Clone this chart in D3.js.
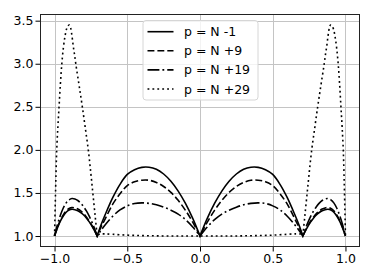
<!DOCTYPE html>
<meta charset="utf-8">
<style>
    body { margin: 0; background: #fff; }
    text { font-family: 'DejaVu Sans', sans-serif; }
    .axis .domain { display: none; }
    .axis text { font-size: 12.5px; fill: #000; }
    .axis line { stroke: #000; }
    .grid line { stroke: #c4c4c4; stroke-width: 1; shape-rendering: crispEdges; }
</style>
<svg width="374" height="280"></svg>
<script src="https://cdn.jsdelivr.net/npm/d3@7"></script>
<script>
    var svg = d3.select("svg"),
        margin = { top: 14, right: 14, bottom: 33, left: 40 },
        width = +svg.attr("width") - margin.left - margin.right,
        height = +svg.attr("height") - margin.top - margin.bottom,
        g = svg.append("g").attr("transform", "translate(" + margin.left + "," + margin.top + ")");

    var xTicks = [-1, -0.5, 0, 0.5, 1];
    var yTicks = [1.0, 1.5, 2.0, 2.5, 3.0, 3.5];
    var nodes = [-1, -0.707, 0, 0.707, 1];

    // x grid shared by the three lower curves
    var xGrid = [
        -1, -0.98, -0.96, -0.94, -0.92, -0.90, -0.88, -0.86, -0.84, -0.82, -0.80, -0.78, -0.76, -0.74, -0.72, -0.707,
        -0.68, -0.65, -0.60, -0.55, -0.50, -0.45, -0.40, -0.35, -0.30, -0.25, -0.20, -0.15, -0.10, -0.05, 0,
        0.05, 0.10, 0.15, 0.20, 0.25, 0.30, 0.35, 0.40, 0.45, 0.50, 0.55, 0.60, 0.65, 0.68, 0.707,
        0.72, 0.74, 0.76, 0.78, 0.80, 0.82, 0.84, 0.86, 0.88, 0.90, 0.92, 0.94, 0.96, 0.98, 1
    ];

    var pMinus1 = [
        1.00, 1.095, 1.172, 1.232, 1.276, 1.301, 1.31, 1.306, 1.294, 1.273, 1.244, 1.206, 1.161, 1.107, 1.045, 1.00,
        1.13, 1.255, 1.445, 1.60, 1.715, 1.77, 1.797, 1.798, 1.774, 1.72, 1.635, 1.521, 1.378, 1.204, 1.00,
        1.204, 1.378, 1.521, 1.635, 1.72, 1.774, 1.798, 1.797, 1.77, 1.715, 1.60, 1.445, 1.255, 1.13, 1.00,
        1.045, 1.107, 1.161, 1.206, 1.244, 1.273, 1.294, 1.306, 1.31, 1.301, 1.276, 1.232, 1.172, 1.095, 1.00
    ];

    var pPlus9 = [
        1.00, 1.101, 1.183, 1.246, 1.293, 1.32, 1.33, 1.326, 1.313, 1.291, 1.26, 1.219, 1.171, 1.114, 1.048, 1.00,
        1.105, 1.205, 1.37, 1.49, 1.585, 1.63, 1.648, 1.647, 1.622, 1.575, 1.506, 1.414, 1.298, 1.161, 1.00,
        1.161, 1.298, 1.414, 1.506, 1.575, 1.622, 1.647, 1.648, 1.63, 1.585, 1.49, 1.37, 1.205, 1.105, 1.00,
        1.048, 1.114, 1.171, 1.219, 1.26, 1.291, 1.313, 1.326, 1.33, 1.32, 1.293, 1.246, 1.183, 1.101, 1.00
    ];

    var pPlus19 = [
        1.00, 1.133, 1.24, 1.325, 1.385, 1.42, 1.435, 1.43, 1.412, 1.382, 1.34, 1.288, 1.225, 1.15, 1.063, 1.00,
        1.067, 1.134, 1.23, 1.303, 1.35, 1.378, 1.385, 1.379, 1.362, 1.335, 1.30, 1.255, 1.19, 1.105, 1.00,
        1.105, 1.19, 1.255, 1.30, 1.335, 1.362, 1.379, 1.385, 1.378, 1.35, 1.303, 1.23, 1.134, 1.067, 1.00,
        1.063, 1.15, 1.225, 1.288, 1.34, 1.382, 1.412, 1.43, 1.435, 1.42, 1.385, 1.325, 1.24, 1.133, 1.00
    ];

    // the dotted curve needs its own, finer x grid near the tall peaks
    var xDot = [
        -1, -0.995, -0.99, -0.985, -0.977, -0.969, -0.96, -0.95, -0.939, -0.928, -0.918, -0.908, -0.898,
        -0.89, -0.88, -0.871, -0.862, -0.854, -0.84, -0.825, -0.809, -0.79, -0.768, -0.75, -0.735, -0.72, -0.707,
        -0.69, -0.66, -0.60, -0.50, -0.40, -0.30, -0.20, -0.10, 0,
        0.10, 0.20, 0.30, 0.40, 0.50, 0.60, 0.66, 0.69, 0.707,
        0.72, 0.735, 0.75, 0.768, 0.79, 0.809, 0.825, 0.84, 0.854, 0.862, 0.871, 0.88, 0.89,
        0.898, 0.908, 0.918, 0.928, 0.939, 0.95, 0.96, 0.969, 0.977, 0.985, 0.99, 0.995, 1
    ];

    var pPlus29 = [
        1.0, 1.38, 1.72, 2.0, 2.27, 2.5, 2.76, 3.0, 3.19, 3.32, 3.40, 3.44, 3.45,
        3.42, 3.32, 3.2, 3.1, 3.0, 2.845, 2.68, 2.5, 2.27, 2.0, 1.72, 1.47, 1.22, 1.0,
        1.022, 1.025, 1.02, 1.01, 1.005, 1.002, 1.0, 1.0, 1.0,
        1.0, 1.0, 1.002, 1.005, 1.01, 1.02, 1.025, 1.022, 1.0,
        1.22, 1.47, 1.72, 2.0, 2.27, 2.5, 2.68, 2.845, 3.0, 3.1, 3.2, 3.32, 3.42,
        3.45, 3.44, 3.40, 3.32, 3.19, 3.0, 2.76, 2.5, 2.27, 2.0, 1.72, 1.38, 1.0
    ];

    var labels = ["p = N -1", "p = N +9", "p = N +19", "p = N +29"];
    var dashes = ["none", "6.9,3", "11.9,3,1.85,3", "1.85,3.06"];

    var series = [
        { label: labels[0], xs: xGrid, ys: pMinus1, dash: dashes[0] },
        { label: labels[1], xs: xGrid, ys: pPlus9, dash: dashes[1] },
        { label: labels[2], xs: xGrid, ys: pPlus19, dash: dashes[2] },
        { label: labels[3], xs: xDot, ys: pPlus29, dash: dashes[3] }
    ];

    var x = d3.scaleLinear().domain([-1.1, 1.1]).range([0, width]);
    var y = d3.scaleLinear().domain([0.8725, 3.5775]).range([height, 0]);

    // grid
    g.append("g").attr("class", "grid")
        .selectAll("line").data(xTicks).enter().append("line")
        .attr("x1", function (d) { return Math.round(x(d)) + 0.5; })
        .attr("x2", function (d) { return Math.round(x(d)) + 0.5; })
        .attr("y1", 0).attr("y2", height);
    g.append("g").attr("class", "grid")
        .selectAll("line").data(yTicks).enter().append("line")
        .attr("y1", function (d) { return Math.round(y(d)) + 0.5; })
        .attr("y2", function (d) { return Math.round(y(d)) + 0.5; })
        .attr("x1", 0).attr("x2", width);

    // split each curve into lobes at the nodes so the cusps stay sharp
    function lobes(s) {
        var segs = [], cur = [];
        s.xs.forEach(function (xv, i) {
            cur.push([xv, s.ys[i]]);
            if (i > 0 && nodes.indexOf(xv) >= 0) {
                segs.push(cur);
                cur = [[xv, s.ys[i]]];
            }
        });
        return segs;
    }

    var line = d3.line()
        .x(function (d) { return x(d[0]); })
        .y(function (d) { return y(d[1]); })
        .curve(d3.curveCatmullRom.alpha(0.5));

    series.forEach(function (s) {
        var pathStr = lobes(s).map(function (seg, i) {
            var p = line(seg);
            return i === 0 ? p : "L" + p.slice(1);
        }).join("");
        g.append("path")
            .attr("d", pathStr)
            .attr("fill", "none")
            .attr("stroke", "#000")
            .attr("stroke-width", 1.6)
            .attr("stroke-dasharray", s.dash);
    });

    // axes
    g.append("g")
        .attr("class", "axis")
        .attr("transform", "translate(0," + height + ")")
        .call(d3.axisBottom(x).tickValues(xTicks).tickFormat(d3.format(".1f")).tickSizeOuter(0).tickSize(4.5).tickPadding(3));

    g.append("g")
        .attr("class", "axis")
        .call(d3.axisLeft(y).tickValues(yTicks).tickFormat(d3.format(".1f")).tickSizeOuter(0).tickSize(4.5).tickPadding(2));

    g.append("rect")
        .attr("x", 0.5).attr("y", 0.5)
        .attr("width", width - 1).attr("height", height - 1)
        .attr("fill", "none")
        .attr("stroke", "#222")
        .attr("stroke-width", 1)
        .attr("shape-rendering", "crispEdges");

    // legend
    var legend = svg.append("g").attr("transform", "translate(143,20.5)");
    legend.append("rect")
        .attr("width", 115).attr("height", 79.5)
        .attr("rx", 3)
        .attr("fill", "#fff").attr("fill-opacity", 0.8)
        .attr("stroke", "#d6d6d6").attr("stroke-width", 1);

    var rows = legend.selectAll("g.row").data(series).enter().append("g")
        .attr("class", "row")
        .attr("transform", function (d, i) { return "translate(0," + (11.2 + i * 19.1) + ")"; });

    rows.append("line")
        .attr("x1", 4.5).attr("x2", 30.5)
        .attr("stroke", "#000").attr("stroke-width", 1.6)
        .attr("stroke-dasharray", function (d) { return d.dash; });

    rows.append("text")
        .attr("x", 41)
        .attr("dy", "0.36em")
        .attr("font-size", "12.5px")
        .text(function (d) { return d.label; });
</script>
